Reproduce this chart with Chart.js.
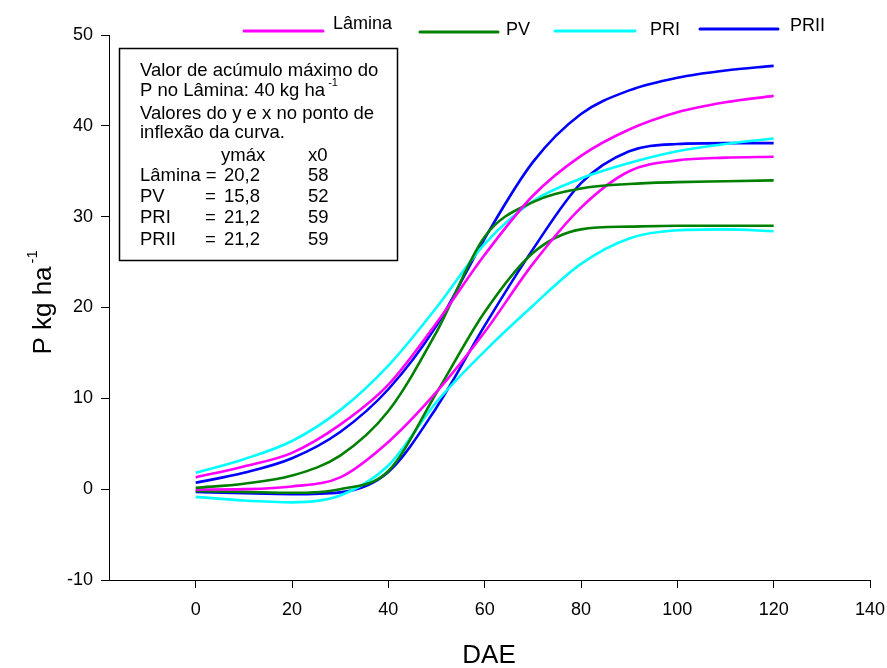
<!DOCTYPE html>
<html>
<head>
<meta charset="utf-8">
<script src="https://cdn.jsdelivr.net/npm/chart.js@4/dist/chart.umd.min.js"></script>
<style>
  html, body { margin: 0; padding: 0; background: #fff; }
  #wrap { width: 887px; height: 668px; }
</style>
</head>
<body>
<div id="wrap"><canvas id="c" width="887" height="668"></canvas></div>
<script>
// Days after emergence (DAE)
const dae = [0, 10, 20, 30, 40, 50, 60, 70, 80, 90, 100, 110, 120];

// Accumulated P (kg ha-1), two fitted curves per treatment
const laminaHigh = [1.3, 2.5, 4.0, 7.1, 11.5, 18.3, 25.8, 32.3, 36.7, 39.6, 41.5, 42.6, 43.3];
const laminaLow  = [-0.05, 0.0, 0.3, 1.3, 5.2, 10.7, 17.3, 24.8, 31.0, 35.0, 36.2, 36.5, 36.6];
const pvHigh     = [0.15, 0.6, 1.5, 3.7, 8.6, 17.3, 27.8, 31.6, 33.1, 33.6, 33.8, 33.9, 34.0];
const pvLow      = [-0.2, -0.3, -0.4, 0.0, 2.0, 10.6, 19.5, 26.0, 28.6, 28.9, 29.0, 29.0, 29.0];
const priHigh    = [1.8, 3.3, 5.3, 8.7, 13.6, 20.0, 27.0, 31.7, 34.2, 35.9, 37.2, 38.0, 38.6];
const priLow     = [-0.85, -1.25, -1.45, -0.7, 2.6, 9.6, 15.2, 20.2, 24.8, 27.6, 28.5, 28.6, 28.4];
const priiHigh   = [0.7, 1.8, 3.4, 6.3, 11.0, 18.0, 27.6, 36.0, 41.3, 43.9, 45.3, 46.1, 46.6];
const priiLow    = [-0.3, -0.45, -0.55, -0.35, 1.9, 9.0, 18.0, 26.4, 33.7, 37.2, 38.0, 38.1, 38.1];

// Axis ticks
const xTicks = [0, 20, 40, 60, 80, 100, 120, 140];
const yTicks = [-10, 0, 10, 20, 30, 40, 50];

// Treatments shown in the legend
const treatments = ['Lâmina', 'PV', 'PRI', 'PRII'];

// Inset note
const noteLines = [
  'Valor de acúmulo máximo do',
  'P no Lâmina: 40 kg ha',
  'Valores do y e x no ponto de',
  'inflexão da curva.'
];
const noteHeader = ['ymáx', 'x0'];
const noteNames = ['Lâmina', 'PV', 'PRI', 'PRII'];
const noteYmax = ['20,2', '15,8', '21,2', '21,2'];
const noteX0 = ['58', '52', '59', '59'];

const FONT = '"Liberation Sans", Arial, Helvetica, sans-serif';
const colors = { 'Lâmina': '#ff00ff', 'PV': '#008000', 'PRI': '#00ffff', 'PRII': '#0000ff' };

function series(label, values) {
  return {
    label: label,
    data: dae.map((x, i) => ({ x: x, y: values[i] })),
    borderColor: colors[label],
    backgroundColor: colors[label],
    borderWidth: 2.6,
    pointRadius: 0,
    fill: false,
    cubicInterpolationMode: 'monotone'
  };
}

const decorations = {
  id: 'decorations',
  afterDraw(chart) {
    const ctx = chart.ctx;
    ctx.save();
    ctx.fillStyle = '#000';
    ctx.textBaseline = 'middle';

    // legend
    const leg = [
      { x1: 244, x2: 323, y: 31, tx: 333, ty: 24 },
      { x1: 420, x2: 498, y: 32, tx: 506, ty: 30 },
      { x1: 555, x2: 635, y: 31, tx: 650, ty: 30 },
      { x1: 700, x2: 778, y: 29, tx: 790, ty: 26 }
    ];
    treatments.forEach((t, i) => {
      const p = leg[i];
      ctx.strokeStyle = colors[t];
      ctx.lineWidth = 3;
      ctx.lineCap = 'round';
      ctx.beginPath();
      ctx.moveTo(p.x1, p.y);
      ctx.lineTo(p.x2, p.y);
      ctx.stroke();
      ctx.font = '18px ' + FONT;
      ctx.textAlign = 'left';
      ctx.fillText(t, p.tx, p.ty);
    });

    // inset note box
    ctx.strokeStyle = '#000';
    ctx.lineWidth = 1.5;
    ctx.lineCap = 'butt';
    ctx.strokeRect(119.5, 48.5, 278, 212);
    const noteFont = '18.5px ' + FONT;
    ctx.font = noteFont;
    ctx.textAlign = 'left';
    const rows = [71, 91, 114, 133, 156, 176, 197, 218, 240];
    noteLines.forEach((s, i) => ctx.fillText(s, 140, rows[i]));
    // superscript after "kg ha"
    const w2 = ctx.measureText(noteLines[1]).width;
    ctx.font = '11px ' + FONT;
    ctx.fillText('-1', 140 + w2 + 3, rows[1] - 8);
    ctx.font = noteFont;
    ctx.fillText(noteHeader[0], 221, rows[4]);
    ctx.fillText(noteHeader[1], 308, rows[4]);
    noteNames.forEach((n, i) => {
      const y = rows[5 + i];
      if (i === 0) {
        ctx.fillText(n + ' =', 140, y);
      } else {
        ctx.fillText(n, 140, y);
        ctx.fillText('=', 205, y);
      }
      ctx.fillText(noteYmax[i], 224, y);
      ctx.fillText(noteX0[i], 308, y);
    });

    // x axis title
    ctx.font = '26px ' + FONT;
    ctx.textAlign = 'center';
    ctx.fillText('DAE', 489, 656);

    // y axis title (rotated) with superscript
    ctx.translate(44, 303);
    ctx.rotate(-Math.PI / 2);
    ctx.font = '26px ' + FONT;
    ctx.textAlign = 'left';
    const main = 'P kg ha';
    const wm = ctx.measureText(main).width;
    const wsup = 15;
    const start = -(wm + wsup) / 2;
    ctx.fillText(main, start, 0);
    ctx.font = '15px ' + FONT;
    ctx.fillText('-1', start + wm + 3, -11);
    ctx.restore();
  }
};

const tickFont = { family: FONT, size: 18 };

new Chart(document.getElementById('c'), {
  type: 'line',
  data: {
    datasets: [
      series('Lâmina', laminaHigh),
      series('PV', pvHigh),
      series('PRI', priHigh),
      series('PRII', priiHigh),
      series('Lâmina', laminaLow),
      series('PV', pvLow),
      series('PRI', priLow),
      series('PRII', priiLow)
    ]
  },
  options: {
    responsive: false,
    devicePixelRatio: 1,
    animation: false,
    layout: { padding: { top: 35, right: 17, bottom: 0, left: 0 } },
    plugins: { legend: { display: false }, tooltip: { enabled: false } },
    scales: {
      x: {
        type: 'linear',
        min: -18,
        max: 140,
        afterBuildTicks: ax => { ax.ticks = xTicks.map(v => ({ value: v })); },
        afterFit: s => { s.height = 88; s.paddingRight = 0; s.paddingLeft = 0; },
        ticks: { font: tickFont, color: '#000', padding: 11, maxRotation: 0, autoSkip: false },
        grid: { drawOnChartArea: false, drawTicks: true, tickLength: 8, color: '#000', lineWidth: 1 },
        border: { display: true, color: '#000', width: 1 }
      },
      y: {
        type: 'linear',
        min: -10,
        max: 50,
        afterBuildTicks: ax => { ax.ticks = yTicks.map(v => ({ value: v })); },
        afterFit: s => { s.width = 109; s.paddingTop = 0; s.paddingBottom = 0; },
        ticks: { font: tickFont, color: '#000', padding: 8, autoSkip: false },
        grid: { drawOnChartArea: false, drawTicks: true, tickLength: 8, color: '#000', lineWidth: 1 },
        border: { display: true, color: '#000', width: 1 }
      }
    }
  },
  plugins: [decorations]
});
</script>
</body>
</html>
